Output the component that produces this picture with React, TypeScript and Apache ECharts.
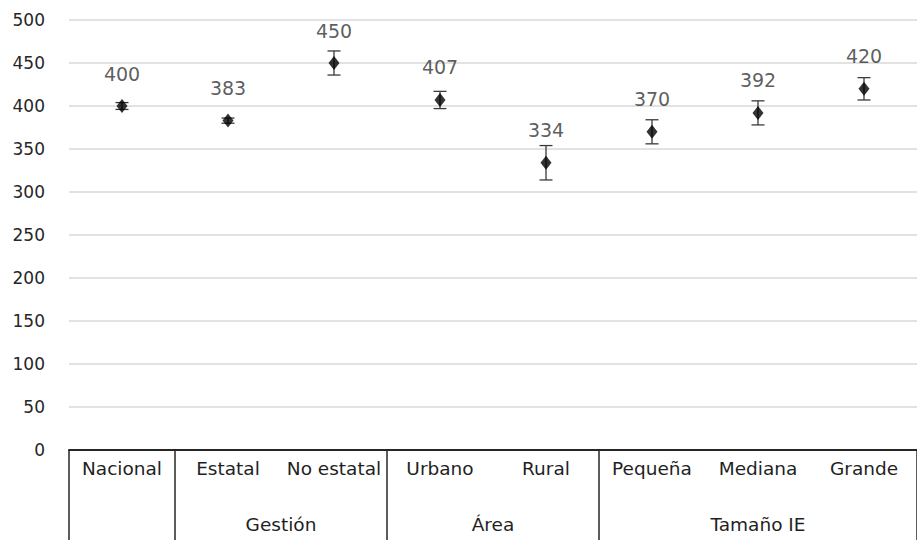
import { useEffect, useRef } from "react";
import * as echarts from "echarts";

// Scores by category, with the half-width of each confidence interval
const categories = ["Nacional", "Estatal", "No estatal", "Urbano", "Rural", "Pequeña", "Mediana", "Grande"];
const scores = [400, 383, 450, 407, 334, 370, 392, 420];
const errors = [4, 3, 14, 10, 20, 14, 14, 13];

// Second row of the category table: group names, their centres and the cell borders (in category units)
const groupLabels = ["Gestión", "Área", "Tamaño IE"];
const groupCenters = [2, 4, 6.5];
const groupBorders = [0, 1, 3, 5, 8];

const yMin = 0;
const yMax = 500;
const yStep = 50;

const FONT = "DejaVu Sans";

export default function App() {
  const ref = useRef<HTMLDivElement>(null);

  useEffect(() => {
    document.body.style.margin = "0";
    const chart = echarts.init(ref.current!, null, { renderer: "svg" });

    const option = {
      animation: false,
      backgroundColor: "#ffffff",
      grid: { left: 69, top: 20, width: 856, height: 430 },
      xAxis: [
        {
          type: "category",
          data: categories,
          boundaryGap: true,
          axisLine: { show: true, lineStyle: { color: "#262626", width: 2 } },
          axisTick: { show: false },
          axisLabel: {
            interval: 0,
            margin: 9,
            fontFamily: FONT,
            fontSize: 18.5,
            color: "#1f1f1f",
          },
          splitLine: { show: false },
        },
        {
          type: "value",
          min: 0,
          max: 8,
          position: "bottom",
          axisLine: { show: false },
          splitLine: { show: false },
          axisTick: {
            show: true,
            customValues: groupBorders,
            length: 100,
            lineStyle: { color: "#262626", width: 1.5 },
          },
          axisLabel: {
            customValues: groupCenters,
            margin: 65,
            fontFamily: FONT,
            fontSize: 18.5,
            color: "#1f1f1f",
            formatter: (v: number) => {
              const i = groupCenters.indexOf(v);
              return i >= 0 ? groupLabels[i] : "";
            },
          },
        },
      ],
      yAxis: {
        type: "value",
        min: yMin,
        max: yMax,
        interval: yStep,
        axisLine: { show: false },
        axisTick: { show: false },
        axisLabel: {
          margin: 24,
          fontFamily: FONT,
          fontSize: 17,
          color: "#262626",
        },
        splitLine: { lineStyle: { color: "#d9d9d9", width: 1.5 } },
      },
      series: [
        {
          type: "custom",
          xAxisIndex: 0,
          encode: { x: 0, y: 1 },
          data: categories.map((_, i) => [i, scores[i], errors[i]]),
          renderItem: (_params: any, api: any) => {
            const x = api.value(0);
            const v = api.value(1);
            const e = api.value(2);
            const hi = api.coord([x, v + e]);
            const lo = api.coord([x, v - e]);
            const cap = 6.5;
            const style = { stroke: "#3a3a3a", lineWidth: 1.3 };
            return {
              type: "group",
              children: [
                { type: "line", shape: { x1: hi[0], y1: hi[1], x2: lo[0], y2: lo[1] }, style },
                { type: "line", shape: { x1: hi[0] - cap, y1: hi[1], x2: hi[0] + cap, y2: hi[1] }, style },
                { type: "line", shape: { x1: lo[0] - cap, y1: lo[1], x2: lo[0] + cap, y2: lo[1] }, style },
              ],
            };
          },
          z: 2,
        },
        {
          type: "scatter",
          xAxisIndex: 0,
          data: scores,
          symbol: "diamond",
          symbolSize: [11, 14],
          itemStyle: { color: "#000000" },
          label: {
            show: true,
            position: "top",
            distance: 16,
            fontFamily: FONT,
            fontSize: 19,
            color: "#333333",
          },
          z: 3,
        },
      ],
    };

    chart.setOption(option as any);
    return () => chart.dispose();
  }, []);

  return <div ref={ref} style={{ width: 917, height: 540 }} />;
}
